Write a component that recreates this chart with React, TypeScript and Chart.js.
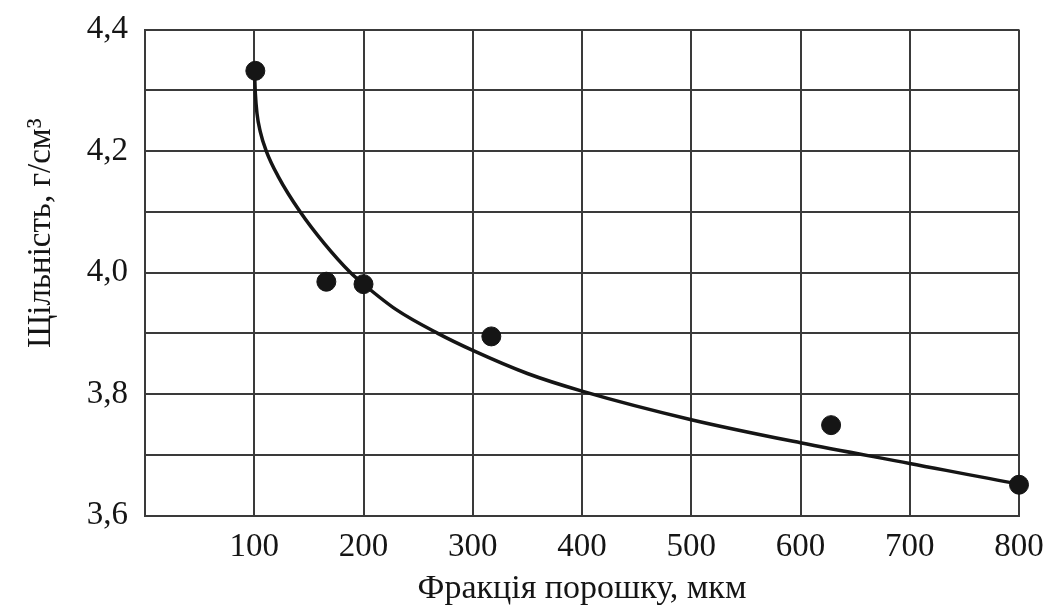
import React, { useEffect, useRef } from "react";
import { Chart, registerables } from "chart.js";

Chart.register(...registerables);

// Measured points (powder fraction, µm → density, g/cm³)
const pointX = [101, 166, 200, 317, 628, 800];
const pointY = [4.332, 3.985, 3.981, 3.895, 3.749, 3.651];

// Fitted curve
const curveX = [100.3, 101, 102.5, 105.5, 111, 122, 142, 164, 188, 200, 230, 268, 300, 350, 400, 500, 600, 700, 800, 823];
const curveY = [4.327, 4.295, 4.262, 4.232, 4.2, 4.158, 4.1, 4.048, 4.0, 3.981, 3.939, 3.9, 3.872, 3.834, 3.805, 3.758, 3.72, 3.686, 3.652, 3.645];

const xTitle = "Фракція порошку, мкм";
const yTitle = "Щільність, г/см³";

const FONT = "'Liberation Serif', 'Times New Roman', serif";
const INK = "#151515";
const GRID = "#3a3a3a";

const yTitlePlugin = {
  id: "yTitlePlugin",
  afterDraw(chart: any) {
    const ctx = chart.ctx;
    ctx.save();
    ctx.translate(50, 348);
    ctx.rotate(-Math.PI / 2);
    ctx.font = `33px ${FONT}`;
    ctx.fillStyle = INK;
    ctx.textAlign = "left";
    ctx.textBaseline = "alphabetic";
    ctx.fillText(yTitle, 0, 0);
    ctx.restore();
  },
};

export default function App() {
  const ref = useRef<HTMLCanvasElement | null>(null);

  useEffect(() => {
    if (!ref.current) return;
    const chart = new Chart(ref.current, {
      type: "scatter",
      data: {
        datasets: [
          {
            label: "points",
            data: pointX.map((x, i) => ({ x, y: pointY[i] })),
            backgroundColor: INK,
            borderColor: INK,
            pointRadius: 9.5,
            pointHoverRadius: 9.5,
            showLine: false,
            clip: false as any,
          },
          {
            label: "curve",
            type: "line" as any,
            data: curveX.map((x, i) => ({ x, y: curveY[i] })),
            borderColor: INK,
            borderWidth: 3.5,
            pointRadius: 0,
            showLine: true,
            fill: false,
            cubicInterpolationMode: "monotone",
            clip: false as any,
          },
        ],
      },
      options: {
        responsive: false,
        animation: false,
        devicePixelRatio: 1,
        layout: { padding: { top: 29.5, right: 27, bottom: 0, left: 0 } },
        plugins: { legend: { display: false }, tooltip: { enabled: false } },
        scales: {
          x: {
            type: "linear",
            min: 0,
            max: 800,
            afterFit: (s: any) => {
              s.height = 98.3;
              s.paddingLeft = 0;
              s.paddingRight = 0;
            },
            ticks: {
              stepSize: 100,
              padding: 12,
              color: INK,
              font: { family: FONT, size: 33 },
              callback: (v: any) => (Number(v) === 0 ? "" : String(v)),
            },
            grid: { color: GRID, lineWidth: 2, drawTicks: false },
            border: { color: GRID, width: 2 },
            title: {
              display: true,
              text: xTitle,
              color: INK,
              font: { family: FONT, size: 34 },
              padding: { top: 0, bottom: 5 },
            },
          },
          y: {
            type: "linear",
            min: 3.6,
            max: 4.4,
            afterFit: (s: any) => {
              s.width = 145;
              s.paddingTop = 0;
              s.paddingBottom = 0;
            },
            ticks: {
              stepSize: 0.1,
              padding: 17,
              color: INK,
              font: { family: FONT, size: 33 },
              callback: (v: any) => {
                const n = Math.round(Number(v) * 10);
                return n % 2 === 0 ? (n / 10).toFixed(1).replace(".", ",") : "";
              },
            },
            grid: { color: GRID, lineWidth: 2, drawTicks: false },
            border: { color: GRID, width: 2 },
          },
        },
      },
      plugins: [yTitlePlugin],
    } as any);
    return () => chart.destroy();
  }, []);

  return (
    <div style={{ position: "fixed", left: 0, top: 0, width: 1046, height: 614, background: "#fff" }}>
      <canvas ref={ref} width={1046} height={614} />
    </div>
  );
}
